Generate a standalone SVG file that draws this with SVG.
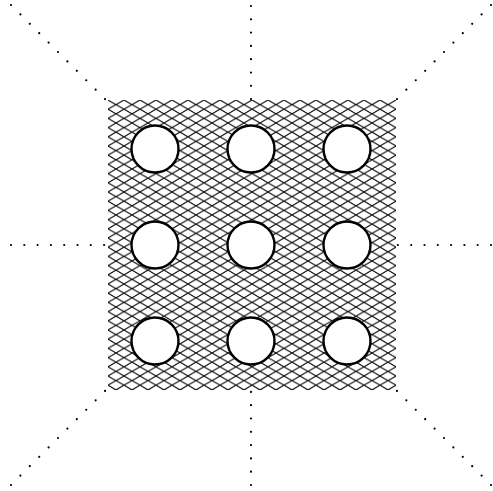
<svg xmlns="http://www.w3.org/2000/svg" width="493" height="491" viewBox="0 0 493 491">
  <style>
    .dot { stroke: #000; stroke-width: 2.2; stroke-linecap: round; stroke-dasharray: 0 13.3; fill: none; }
    .hole { fill: #fff; stroke: #000; stroke-width: 2.4; }
  </style>
  <defs>
    <pattern id="mesh" patternUnits="userSpaceOnUse" x="108" y="100" width="16" height="9.2">
      <path d="M-1,-0.575 L17,9.775 M-1,9.775 L17,-0.575" stroke="#111" stroke-width="1.1" fill="none"/>
    </pattern>
  </defs>
  <rect width="493" height="491" fill="#fff"/>
  <g id="connectors">
    <line class="dot" x1="11" y1="5" x2="106" y2="100"/>
    <line class="dot" x1="251" y1="6" x2="251" y2="100"/>
    <line class="dot" x1="491" y1="5" x2="396" y2="100"/>
    <line class="dot" x1="11" y1="245" x2="106" y2="245"/>
    <line class="dot" x1="491" y1="245" x2="396" y2="245"/>
    <line class="dot" x1="11" y1="485" x2="106" y2="390"/>
    <line class="dot" x1="251" y1="485" x2="251" y2="390"/>
    <line class="dot" x1="491" y1="485" x2="396" y2="390"/>
  </g>
  <g id="mesh-square">
    <rect x="108" y="100" width="288" height="290" fill="url(#mesh)"/>
  </g>
  <g id="hole-1"><circle class="hole" cx="155" cy="149" r="23.5"/></g>
  <g id="hole-2"><circle class="hole" cx="251" cy="149" r="23.5"/></g>
  <g id="hole-3"><circle class="hole" cx="347" cy="149" r="23.5"/></g>
  <g id="hole-4"><circle class="hole" cx="155" cy="245" r="23.5"/></g>
  <g id="hole-5"><circle class="hole" cx="251" cy="245" r="23.5"/></g>
  <g id="hole-6"><circle class="hole" cx="347" cy="245" r="23.5"/></g>
  <g id="hole-7"><circle class="hole" cx="155" cy="341" r="23.5"/></g>
  <g id="hole-8"><circle class="hole" cx="251" cy="341" r="23.5"/></g>
  <g id="hole-9"><circle class="hole" cx="347" cy="341" r="23.5"/></g>
</svg>
